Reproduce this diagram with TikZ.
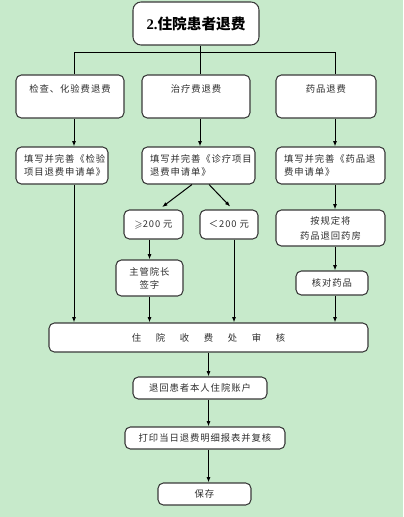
\documentclass[tikz,border=0pt]{standalone}
\usepackage{amssymb}
\usepackage{fontspec}
\usetikzlibrary{arrows.meta}
\newfontfamily\cjk[LetterSpace=10]{Noto Sans CJK SC}
\newfontfamily\cjkt{Noto Sans CJK SC}
\newfontfamily\tnr{Liberation Serif}
\definecolor{cBg}{HTML}{C7EACB}
\definecolor{cInk}{HTML}{2E2E2E}
\definecolor{cLine}{HTML}{3A3A3A}

\begin{document}
\begin{tikzpicture}[x=0.75pt, y=-0.75pt,
  box/.style 2 args={draw=cLine, fill=white, rounded corners=4pt, line width=0.8pt, inner sep=0pt,
    text=cInk, font=\cjk\fontsize{7}{9.75}\selectfont, minimum width=#1*0.75pt, minimum height=#2*0.75pt},
  form/.style={align=left, text width=#1*0.75pt},
  trunk/.style={draw=black, line width=0.75pt},
  link/.style={->, draw=black, line width=0.75pt},
  >={Latex[length=4pt, width=3pt]}]
  \fill[cBg] (0,0) rectangle (403,517);
  \useasboundingbox (0,0) rectangle (403,517);
  % title and first row
  \node[box={126}{43}, rounded corners=6pt, font=\cjkt\bfseries\fontsize{11}{13}\selectfont, text=black] (title) at (196,23.5)
       {{\tnr\bfseries 2.}住院患者退费};
  \foreach \n/\x/\w/\lab in {chk/70/108/{检查、化验费退费}, trt/196/108/{治疗费退费}, drg/326/100/{药品退费}}
    \node[box={\w}{43}, text depth=11.25pt] (\n) at (\x,96.5) {\lab};
  \coordinate (cA) at (74,53);
  \coordinate (bus) at (200,53);
  \coordinate (cC) at (335,53);
  \draw[trunk] (title.south -| bus) -- (bus);
  \draw[trunk] (chk.north -| cA) -- (cA) -- (cC) -- (drg.north -| cC);
  \draw[trunk] (bus) -- (trt.north -| bus);
  % forms
  \node[box={92}{37}, form=76] (chkform) at (62,165.5) {填写并完善《检验\\项目退费申请单》};
  \node[box={113}{37}, form=97] (trtform) at (198.5,165.5) {填写并完善《诊疗项目\\退费申请单》};
  \node[box={109}{37}, form=93] (drgform) at (330.5,165.5) {填写并完善《药品退\\费申请单》};
  \foreach \a/\b/\c in {chk/chkform/cA, trt/trtform/bus, drg/drgform/cC}
    \draw[link] (\a.south -| \c) -- (\b.north -| \c);
  % branches
  \node[box={59}{29}] (ge200) at (153.5,224.5) {$\geqslant$200 元};
  \node[box={58}{29}] (lt200) at (229,224.5) {＜200 元};
  \node[box={109}{36}, align=center] (drgret) at (330.5,228) {按规定将\\[1.5pt]药品退回药房};
  \node[box={67}{36}, align=center] (sign) at (149.5,278) {主管院长\\签字};
  \node[box={72}{24}] (drgchk) at (332,283) {核对药品};
  \draw[link, shorten >=3pt] ([xshift=-4.9pt]trtform.south) -- ([xshift=4.1pt]ge200.north);
  \draw[link, shorten >=3pt] ([xshift=7.9pt]trtform.south) -- ([xshift=3pt]lt200.north);
  \draw[link] (ge200.south -| sign.north) -- (sign.north);
  \foreach \a/\b in {drgform/drgret, drgret/drgchk}
    \draw[link] (\a.south -| cC) -- (\b.north -| cC);
  % audit and the rest
  \node[box={319}{29}] (audit) at (208.5,337.5)
       {住\hspace{11pt}院\hspace{11pt}收\hspace{11pt}费\hspace{11pt}处\hspace{11pt}审\hspace{11pt}核};
  \coordinate (cL) at ([xshift=3.75pt]lt200.south);
  \draw[link] (chkform.south -| cA) -- (audit.north -| cA);
  \draw[link] (sign.south) -- (sign.south |- audit.north);
  \draw[link] (cL) -- (cL |- audit.north);
  \draw[link] (drgchk.south -| cC) -- (audit.north -| cC);
  \node[box={134}{22}] (acct) at (200,388) {退回患者本人住院账户};
  \node[box={160}{22}] (print) at (205,438) {打印当日退费明细报表并复核};
  \node[box={93}{22}] (save) at (204.5,494) {保存};
  \draw[link] (audit.south) -- (acct.north -| audit.south);
  \draw[link] (acct.south -| audit.south) -- (print.north -| audit.south);
  \draw[link] (print.south -| audit.south) -- (save.north -| audit.south);
\end{tikzpicture}
\end{document}
